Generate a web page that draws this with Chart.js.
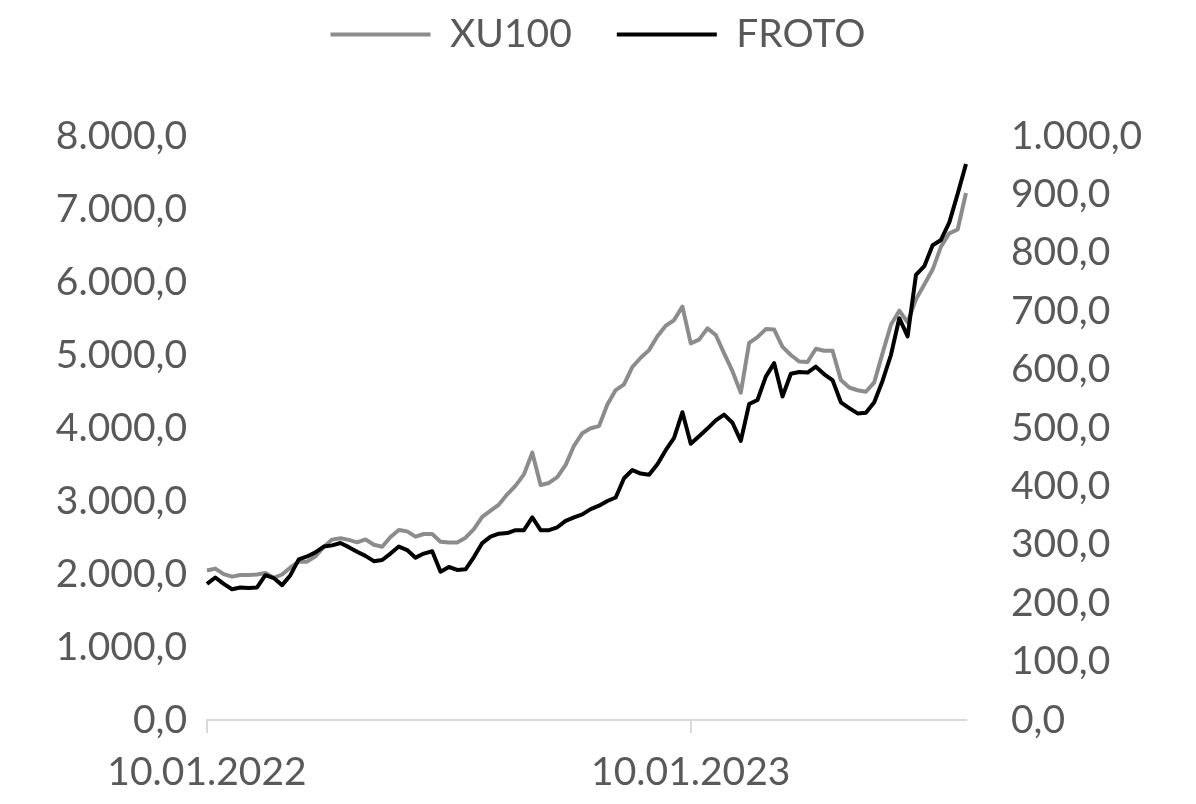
<!DOCTYPE html>
<html>
<head>
<meta charset="utf-8">
<script src="https://cdn.jsdelivr.net/npm/chart.js@4.4.1/dist/chart.umd.min.js"></script>
<style>
  html, body { margin: 0; padding: 0; background: #fff; }
</style>
</head>
<body>
<canvas id="chart" width="1196" height="804"></canvas>
<script>
// weekly closes, left axis
const xu100 = [
  2047, 2074, 1999, 1964, 1986, 1986, 1992, 2014, 1948, 1993,
  2089, 2169, 2169, 2241, 2370, 2471, 2489, 2467, 2434, 2474,
  2401, 2374, 2507, 2604, 2584, 2512, 2548, 2548, 2443, 2430,
  2433, 2497, 2615, 2782, 2867, 2951, 3091, 3210, 3365, 3662,
  3219, 3247, 3326, 3495, 3756, 3929, 3996, 4026, 4323, 4519,
  4599, 4836, 4962, 5067, 5258, 5401, 5479, 5662, 5160, 5210,
  5365, 5274, 5023, 4778, 4484, 5165, 5244, 5355, 5348, 5111,
  5000, 4911, 4904, 5086, 5058, 5058, 4658, 4555, 4517, 4497,
  4626, 5026, 5415, 5607, 5449, 5762, 5966, 6170, 6485, 6667,
  6719, 7219
];

// right axis
const froto = [
  233, 244, 233, 224, 227, 226, 227, 248, 243, 231,
  248, 275, 280, 287, 297, 299, 303, 296, 288, 281,
  272, 274, 285, 297, 291, 278, 285, 289, 254, 262,
  257, 258, 279, 303, 314, 319, 320, 325, 325, 347,
  325, 325, 330, 341, 347, 352, 361, 367, 375, 381,
  414, 428, 422, 420, 438, 462, 483, 527, 473, 486,
  499, 513, 523, 509, 478, 541, 548, 588, 611, 554,
  593, 596, 595, 605, 592, 582, 544, 534, 525, 526,
  544, 581, 625, 688, 657, 762, 777, 813, 822, 852,
  901, 952
];

const weeks = xu100.map((_, i) => i);
const xTickIndex = [0, 58];
const xTickLabels = ['10.01.2022', '10.01.2023'];

const leftMax = 8000, leftStep = 1000;
const rightMax = 1000, rightStep = 100;

const textColor = '#595959';
const font = { family: 'Lato', size: 39 };

function trNum(v) {
    const parts = Number(v).toFixed(1).split('.');
    return parts[0].replace(/\B(?=(\d{3})+(?!\d))/g, '.') + ',' + parts[1];
}

const ctx = document.getElementById('chart').getContext('2d');

new Chart(ctx, {
    type: 'line',
    data: {
        labels: weeks,
        datasets: [
            {
                label: 'XU100',
                data: xu100,
                borderColor: '#8c8c8c',
                backgroundColor: '#8c8c8c',
                borderWidth: 4,
                pointRadius: 0,
                tension: 0,
                borderJoinStyle: 'round',
                yAxisID: 'y',
                order: 2
            },
            {
                label: 'FROTO',
                data: froto,
                borderColor: '#000000',
                backgroundColor: '#000000',
                borderWidth: 4,
                pointRadius: 0,
                tension: 0,
                borderJoinStyle: 'round',
                yAxisID: 'y1',
                order: 1
            }
        ]
    },
    options: {
        responsive: false,
        animation: false,
        devicePixelRatio: 1,
        layout: { padding: 0 },
        plugins: {
            tooltip: { enabled: false },
            legend: {
                position: 'top',
                weight: 3000,
                labels: {
                    color: textColor,
                    font: font,
                    boxWidth: 100,
                    boxHeight: 4,
                    padding: 15,
                    sort: (a, b) => a.datasetIndex - b.datasetIndex,
                    generateLabels: chart => {
                        const items = Chart.defaults.plugins.legend.labels.generateLabels(chart);
                        // flat bar, and a little extra gap after the first entry
                        return items.map(it => ({
                            ...it,
                            lineWidth: 0,
                            text: it.datasetIndex === 0 ? it.text + '   ' : it.text
                        }));
                    }
                }
            },
            // empty spacer between legend and plot
            title: {
                display: true,
                text: '',
                weight: 2000,
                font: { size: 10 },
                padding: { top: 30, bottom: 30 }
            }
        },
        scales: {
            x: {
                type: 'category',
                offset: false,
                grid: { display: true, drawOnChartArea: false, drawTicks: true, tickLength: 13, color: '#d9d9d9', lineWidth: 2 },
                border: { display: true, color: '#d9d9d9', width: 2 },
                ticks: {
                    autoSkip: false,
                    maxRotation: 0,
                    color: textColor,
                    font: font,
                    padding: 16,
                    callback: value => xTickLabels[xTickIndex.indexOf(value)]
                },
                afterBuildTicks: scale => {
                    scale.ticks = scale.ticks.filter(t => xTickIndex.includes(t.value));
                },
                afterFit: scale => { scale.height = 84; }
            },
            y: {
                position: 'left',
                min: 0,
                max: leftMax,
                grid: { display: false, drawTicks: false },
                border: { display: false },
                ticks: { stepSize: leftStep, color: textColor, font: font, padding: 20, callback: trNum },
                afterFit: scale => { scale.width = 207; }
            },
            y1: {
                position: 'right',
                min: 0,
                max: rightMax,
                grid: { display: false, drawTicks: false },
                border: { display: false },
                ticks: { stepSize: rightStep, color: textColor, font: font, padding: 45, callback: trNum },
                afterFit: scale => { scale.width = 230; }
            }
        }
    }
});
</script>
</body>
</html>
